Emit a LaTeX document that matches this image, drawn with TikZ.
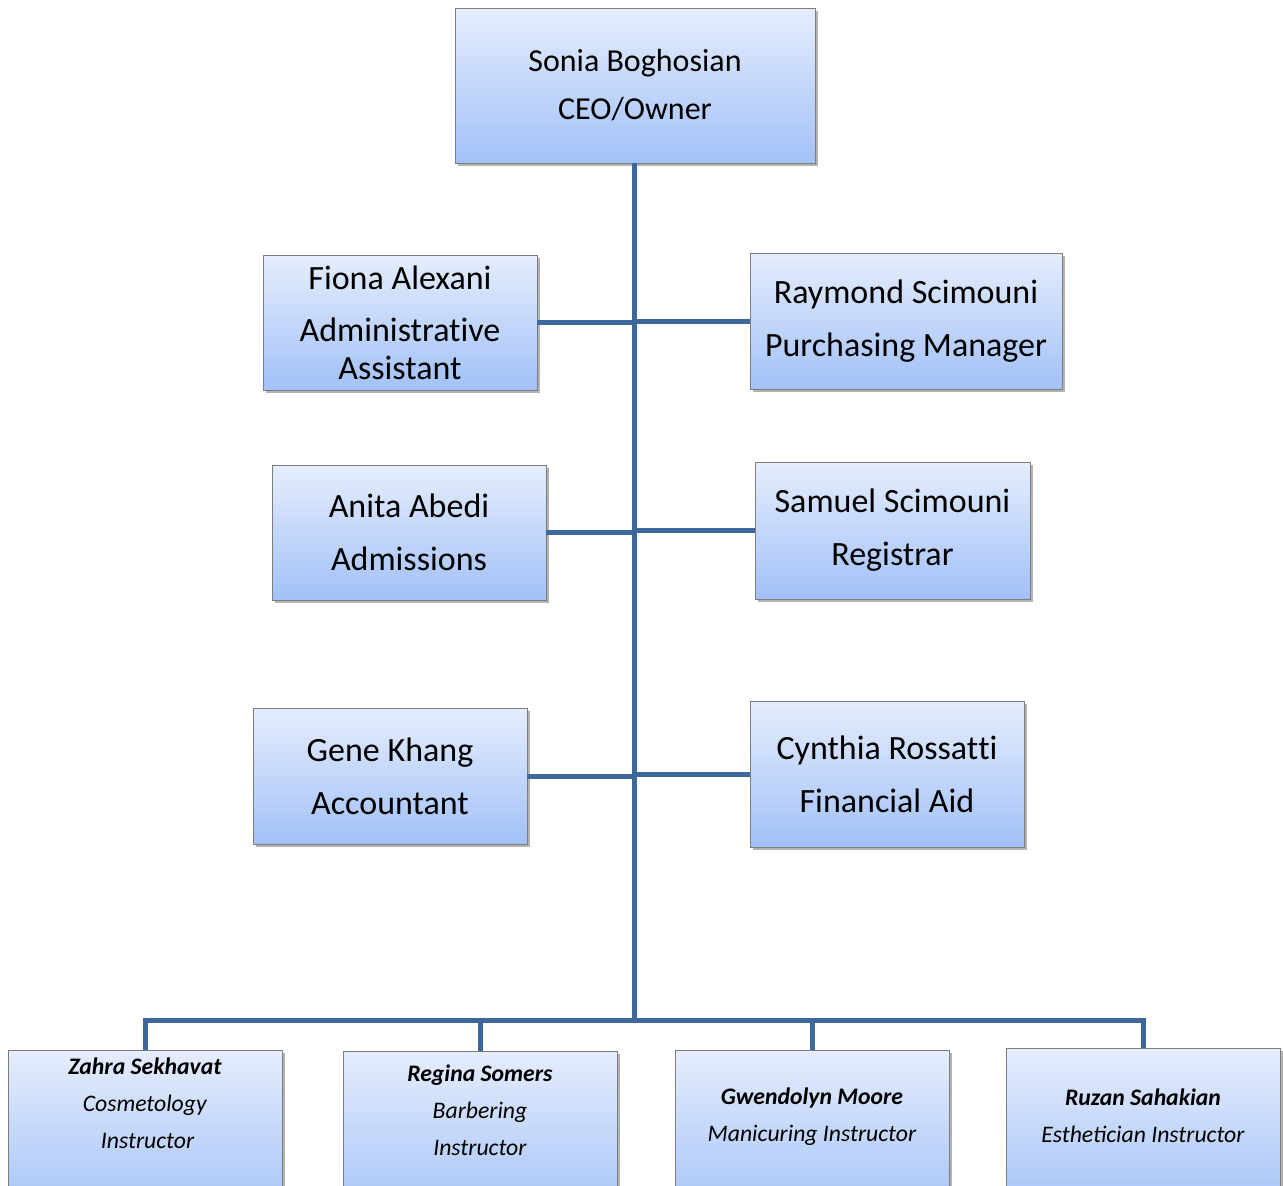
\documentclass[tikz,border=0pt]{standalone}
\usepackage{fontspec}
\setmainfont{Carlito}
\newcommand{\nolig}{\kern0pt{}}
\usetikzlibrary{shadows}
\definecolor{lineblue}{RGB}{62,104,155}
\definecolor{boxtop}{RGB}{229,237,253}
\definecolor{boxbot}{RGB}{162,193,247}
\definecolor{boxline}{RGB}{125,125,125}
\begin{document}
\begin{tikzpicture}[x=1pt,y=-1pt,
  box/.style={draw=boxline, line width=0.8pt, top color=boxtop, bottom color=boxbot,
    drop shadow={shadow xshift=2.5pt,shadow yshift=-3pt,opacity=0.3,fill=black},
    align=center, inner sep=0pt},
  bigtxt/.style={font=\fontsize{34}{53}\selectfont},
  ceotxt/.style={font=\fontsize{32}{48}\selectfont},
  smalltxt/.style={font=\fontsize{23.7}{37}\selectfont, align=center, inner sep=0pt},
  conn/.style={draw=lineblue, line width=5pt}]
\useasboundingbox (0,0) rectangle (1283,1186);
\clip (0,0) rectangle (1283,1186);

% top
\node[box, ceotxt, minimum width=360pt, minimum height=155pt] (ceo) at (635,85.5)
  {Sonia Boghosian\\CEO/Owner};

% middle rows
\node[box, font=\fontsize{34}{38}\selectfont, minimum width=274pt, minimum height=135pt] (fiona) at (400,322.5)
  {Fiona Alexani\\[14pt]Administrat\nolig ive\\Assistant};
\node[box, bigtxt, minimum width=312pt, minimum height=136pt] (raymond) at (906,321)
  {Raymond Scimouni\\Purchasing Manager};
\node[box, bigtxt, minimum width=274pt, minimum height=135pt] (anita) at (409,532.5)
  {Anita Abedi\\Admissions};
\node[box, bigtxt, minimum width=275pt, minimum height=137pt] (samuel) at (892.5,530.5)
  {Samuel Scimouni\\Registrar};
\node[box, bigtxt, minimum width=274pt, minimum height=136pt] (gene) at (390,776)
  {Gene Khang\\Accountant};
\node[box, bigtxt, minimum width=274pt, minimum height=146pt] (cynthia) at (887,774)
  {Cynthia Rossat\nolig t\nolig i\\Financial Aid};

% bottom row
\node[box, anchor=north, minimum width=274pt, minimum height=170pt] (zahra) at (145,1050) {};
\node[box, anchor=north, minimum width=274pt, minimum height=170pt] (regina) at (480,1051) {};
\node[box, anchor=north, minimum width=274pt, minimum height=170pt] (gwen) at (812,1050) {};
\node[box, anchor=north, minimum width=274pt, minimum height=170pt] (ruzan) at (1143,1048) {};

\node[smalltxt] (zahrat) at (145,1103.5)
  {\textbf{\textit{Zahra Sekhavat}}\\\textit{Cosmetology}\\\textit{\ Instructor}};
\node[smalltxt] (reginat) at (480,1110)
  {\textbf{\textit{Regina Somers}}\\\textit{Barbering}\\\textit{Instructor}};
\node[smalltxt] (gwent) at (812,1116.5)
  {\textbf{\textit{Gwendolyn Moore}}\\\textit{Manicuring Instructor}};
\node[smalltxt] (ruzant) at (1143,1115.5)
  {\textbf{\textit{Ruzan Sahakian}}\\\textit{Esthetician Instructor}};

% connectors
\coordinate (bus) at (634,1020);
\draw[conn] (ceo.south -| bus) -- (bus);
\draw[conn] (fiona.east) -- (fiona.east -| bus);
\draw[conn] (raymond.west) -- (raymond.west -| bus);
\draw[conn] (anita.east) -- (anita.east -| bus);
\draw[conn] (samuel.west) -- (samuel.west -| bus);
\draw[conn] (gene.east) -- (gene.east -| bus);
\draw[conn] (cynthia.west) -- (cynthia.west -| bus);
\draw[conn] (bus) -| (zahra.north);
\draw[conn] (bus) -| (regina.north);
\draw[conn] (bus) -| (gwen.north);
\draw[conn] (bus) -| (ruzan.north);
\end{tikzpicture}
\end{document}
